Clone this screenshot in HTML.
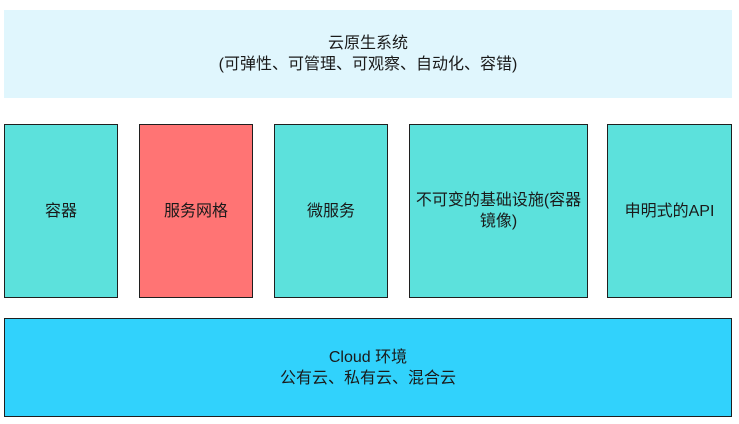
<!DOCTYPE html>
<html><head><meta charset="utf-8"><style>
html,body{margin:0;padding:0;background:#fff;width:739px;height:424px;overflow:hidden}
.b{position:absolute;box-sizing:border-box;display:flex;align-items:center;justify-content:center;text-align:center;
font-family:"Liberation Sans","Noto Sans CJK SC",sans-serif;font-size:16px;line-height:21px;color:#1a1a1a}
.c{background:#5ce1dc;border:1.5px solid #1f1f1f}
</style></head><body>
<div class="b" style="left:4px;top:10px;width:728px;height:88px;background:#e0f6fd">云原生系统<br>(可弹性、可管理、可观察、自动化、容错)</div>
<div class="b c" style="left:4px;top:124px;width:114px;height:174px">容器</div>
<div class="b c" style="left:139px;top:124px;width:114px;height:174px;background:#ff7474">服务网格</div>
<div class="b c" style="left:274px;top:124px;width:114px;height:174px">微服务</div>
<div class="b c" style="left:409px;top:124px;width:179px;height:174px">不可变的基础设施(容器<br>镜像)</div>
<div class="b c" style="left:607px;top:124px;width:125px;height:174px">申明式的API</div>
<div class="b" style="left:4px;top:318px;width:728px;height:99px;background:#31d2fc;border:1.5px solid #1f1f1f">Cloud 环境<br>公有云、私有云、混合云</div>
</body></html>
